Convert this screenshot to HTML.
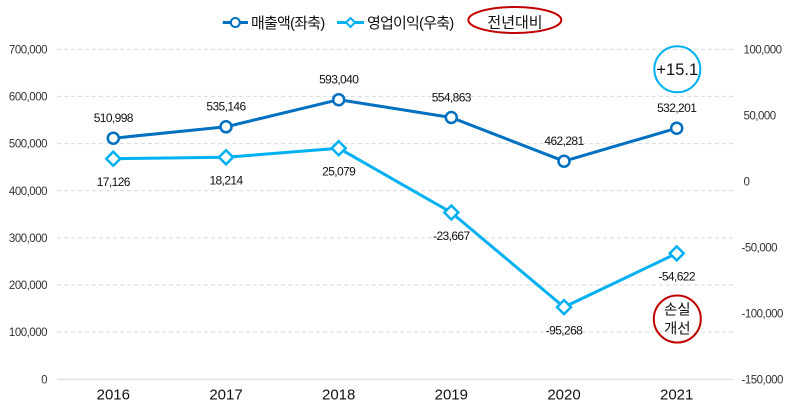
<!DOCTYPE html>
<html>
<head>
<meta charset="utf-8">
<style>
html,body{margin:0;padding:0;background:#fff;}
svg{display:block;}
text{font-family:"Liberation Sans","Noto Sans CJK KR",sans-serif;}
.ax{font-size:11.5px;fill:#333;letter-spacing:-0.5px;}
.dl{font-size:12px;fill:#111;letter-spacing:-0.6px;}
.yr{font-size:15px;fill:#111;}
.lg{font-size:15px;fill:#111;letter-spacing:-0.8px;}
</style>
</head>
<body>
<svg width="788" height="410" viewBox="0 0 788 410" xmlns="http://www.w3.org/2000/svg">
  <g stroke="#d9d9d9" stroke-width="1" stroke-dasharray="4,3">
    <line x1="57" y1="49.3" x2="733" y2="49.3"/>
    <line x1="57" y1="96.4" x2="733" y2="96.4"/>
    <line x1="57" y1="143.6" x2="733" y2="143.6"/>
    <line x1="57" y1="190.7" x2="733" y2="190.7"/>
    <line x1="57" y1="237.9" x2="733" y2="237.9"/>
    <line x1="57" y1="285" x2="733" y2="285"/>
    <line x1="57" y1="332.1" x2="733" y2="332.1"/>
  </g>
  <line x1="57" y1="379.3" x2="733" y2="379.3" stroke="#d9d9d9" stroke-width="1.2"/>

  <g class="ax" text-anchor="end">
    <text x="47" y="53.4">700,000</text>
    <text x="47" y="100.5">600,000</text>
    <text x="47" y="147.7">500,000</text>
    <text x="47" y="194.8">400,000</text>
    <text x="47" y="242">300,000</text>
    <text x="47" y="289.1">200,000</text>
    <text x="47" y="336.2">100,000</text>
    <text x="47" y="383.4">0</text>
  </g>
  <g class="ax" text-anchor="start">
    <text x="743.5" y="53.4">100,000</text>
    <text x="743.5" y="119.4">50,000</text>
    <text x="743.5" y="185.4">0</text>
    <text x="741.5" y="251.4">-50,000</text>
    <text x="741.5" y="317.4">-100,000</text>
    <text x="741.5" y="383.4">-150,000</text>
  </g>

  <g class="yr" text-anchor="middle">
    <text x="113.3" y="399.5">2016</text>
    <text x="226" y="399.5">2017</text>
    <text x="338.7" y="399.5">2018</text>
    <text x="451.3" y="399.5">2019</text>
    <text x="564" y="399.5">2020</text>
    <text x="676.7" y="399.5">2021</text>
  </g>

  <polyline fill="none" stroke="#00B0F0" stroke-width="3" stroke-linejoin="round"
    points="113.3,158.7 226,157.3 338.7,148.2 451.3,212.5 564,307.1 676.7,253.4"/>
  <g fill="#fff" stroke="#00B0F0" stroke-width="2.5">
    <polygon points="113.3,151.7 120.3,158.7 113.3,165.7 106.3,158.7"/>
    <polygon points="226,150.3 233,157.3 226,164.3 219,157.3"/>
    <polygon points="338.7,141.2 345.7,148.2 338.7,155.2 331.7,148.2"/>
    <polygon points="451.3,205.5 458.3,212.5 451.3,219.5 444.3,212.5"/>
    <polygon points="564,300.1 571,307.1 564,314.1 557,307.1"/>
    <polygon points="676.7,246.4 683.7,253.4 676.7,260.4 669.7,253.4"/>
  </g>

  <polyline fill="none" stroke="#0070C0" stroke-width="3" stroke-linejoin="round"
    points="113.3,138.2 226,126.8 338.7,99.7 451.3,117.5 564,161.2 676.7,128.2"/>
  <g fill="#fff" stroke="#0070C0" stroke-width="2.5">
    <circle cx="113.3" cy="138.2" r="5.5"/>
    <circle cx="226" cy="126.8" r="5.5"/>
    <circle cx="338.7" cy="99.7" r="5.5"/>
    <circle cx="451.3" cy="117.5" r="5.5"/>
    <circle cx="564" cy="161.2" r="5.5"/>
    <circle cx="676.7" cy="128.2" r="5.5"/>
  </g>

  <g class="dl" text-anchor="middle">
    <text x="113.3" y="122">510,998</text>
    <text x="226" y="110.6">535,146</text>
    <text x="338.7" y="83.5">593,040</text>
    <text x="451.3" y="101.3">554,863</text>
    <text x="564" y="145">462,281</text>
    <text x="676.7" y="112">532,201</text>
  </g>
  <g class="dl" text-anchor="middle">
    <text x="113.3" y="186">17,126</text>
    <text x="226" y="184.6">18,214</text>
    <text x="338.7" y="175.5">25,079</text>
    <text x="451.3" y="239.8">-23,667</text>
    <text x="564" y="334.4">-95,268</text>
    <text x="676.7" y="280.7">-54,622</text>
  </g>

  <circle cx="677.3" cy="69.3" r="23" fill="none" stroke="#00B0F0" stroke-width="2"/>
  <text x="677.3" y="75.2" text-anchor="middle" style="font-size:16.5px;fill:#111;">+15.1</text>

  <circle cx="677.3" cy="319" r="23.5" fill="none" stroke="#C00000" stroke-width="2"/>
  <text x="677.3" y="314.5" text-anchor="middle" style="font-size:14.5px;fill:#111;">손실</text>
  <text x="677.3" y="333.5" text-anchor="middle" style="font-size:14.5px;fill:#111;">개선</text>

  <line x1="222.7" y1="22.5" x2="248" y2="22.5" stroke="#0070C0" stroke-width="3"/>
  <circle cx="235.3" cy="22.5" r="4.5" fill="#fff" stroke="#0070C0" stroke-width="2"/>
  <text class="lg" x="251" y="28">매출액(좌축)</text>

  <line x1="337" y1="22.5" x2="364" y2="22.5" stroke="#00B0F0" stroke-width="3"/>
  <polygon points="350.5,18 355,22.5 350.5,27 346,22.5" fill="#fff" stroke="#00B0F0" stroke-width="2"/>
  <text class="lg" x="367" y="28">영업이익(우축)</text>

  <ellipse cx="514.8" cy="20" rx="46.5" ry="13" fill="none" stroke="#C00000" stroke-width="2"/>
  <text x="515" y="27.3" text-anchor="middle" style="font-size:15px;fill:#111;">전년대비</text>
</svg>
</body>
</html>
